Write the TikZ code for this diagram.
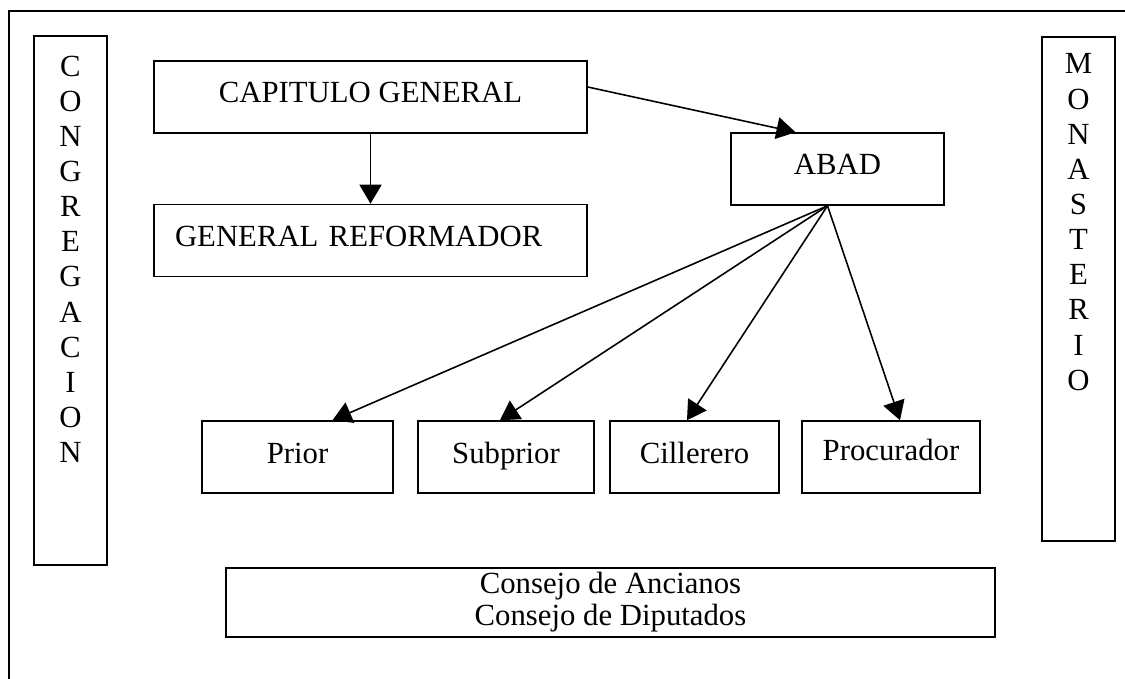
\documentclass[tikz,border=0pt]{standalone}
\usepackage{fontspec}
\setmainfont{Liberation Serif}
\usetikzlibrary{arrows.meta}

\begin{document}
\begin{tikzpicture}[x=0.02cm, y=-0.02cm, line width=0.9pt,
    >={Triangle[length=0.38cm,width=0.44cm]},
    box/.style={draw, minimum height=1.44cm, inner sep=0pt, text height=0.5cm, text depth=0.26cm, font=\fontsize{17.5}{21}\selectfont},
    col/.style={draw, minimum width=1.46cm},
    letters/.style={align=center, inner sep=0pt, anchor=north, font=\fontsize{17.5}{20}\selectfont}]
    \useasboundingbox (0,0) rectangle (1125,679);
    \draw (9,679) -- (9,11) -- (1125,11);

    % side columns
    \node [col, minimum height=10.58cm] (congr) at (70.5,300.5) {};
    \node [letters] (congrtxt) at (70.5,55) {C\\O\\N\\G\\R\\E\\G\\A\\C\\I\\O\\N};
    \node [col, minimum height=10.08cm] (monast) at (1078.5,289) {};
    \node [letters] (monasttxt) at (1078.5,53) {M\\O\\N\\A\\S\\T\\E\\R\\I\\O};

    \node [box, minimum width=8.66cm] (cap) at (370.5,97) {CAPITULO GENERAL};
    \node [box, minimum width=8.66cm, text width=7.82cm, inner xsep=0.42cm, align=left] (gen) at (370.5,240.5) {GENERAL REFORMADOR};
    \node [box, minimum width=4.26cm] (abad) at (837.5,169) {ABAD};

    \node [box, minimum width=3.82cm] (prior) at (297.5,457) {Prior};
    \node [box, minimum width=3.52cm] (subprior) at (506,457) {Subprior};
    \node [box, minimum width=3.38cm] (cillerero) at (694.5,457) {Cillerero};
    \node [box, minimum width=3.56cm, text depth=0.38cm] (procurador) at (891,457) {Procurador};

    \node [draw, minimum width=15.38cm, minimum height=1.38cm, inner sep=0pt, align=center, font=\fontsize{17.5}{18.2}\selectfont] (consejo) at (610.5,602.5) {Consejo de Ancianos\\Consejo de Diputados};

    \draw [->] (cap) -- (gen);
    \draw [->] ([yshift=0.2cm]cap.east) -- ([xshift=-0.84cm]abad.north);
    \coordinate (fork) at ([xshift=-0.2cm]abad.south);
    \draw [->] (fork) -- ([xshift=0.7cm]prior.north);
    \draw [->] (fork) -- ([xshift=-0.12cm]subprior.north);
    \draw [->] (fork) -- ([xshift=-0.15cm]cillerero.north);
    \draw [->] (fork) -- ([xshift=0.18cm]procurador.north);
\end{tikzpicture}
\end{document}
